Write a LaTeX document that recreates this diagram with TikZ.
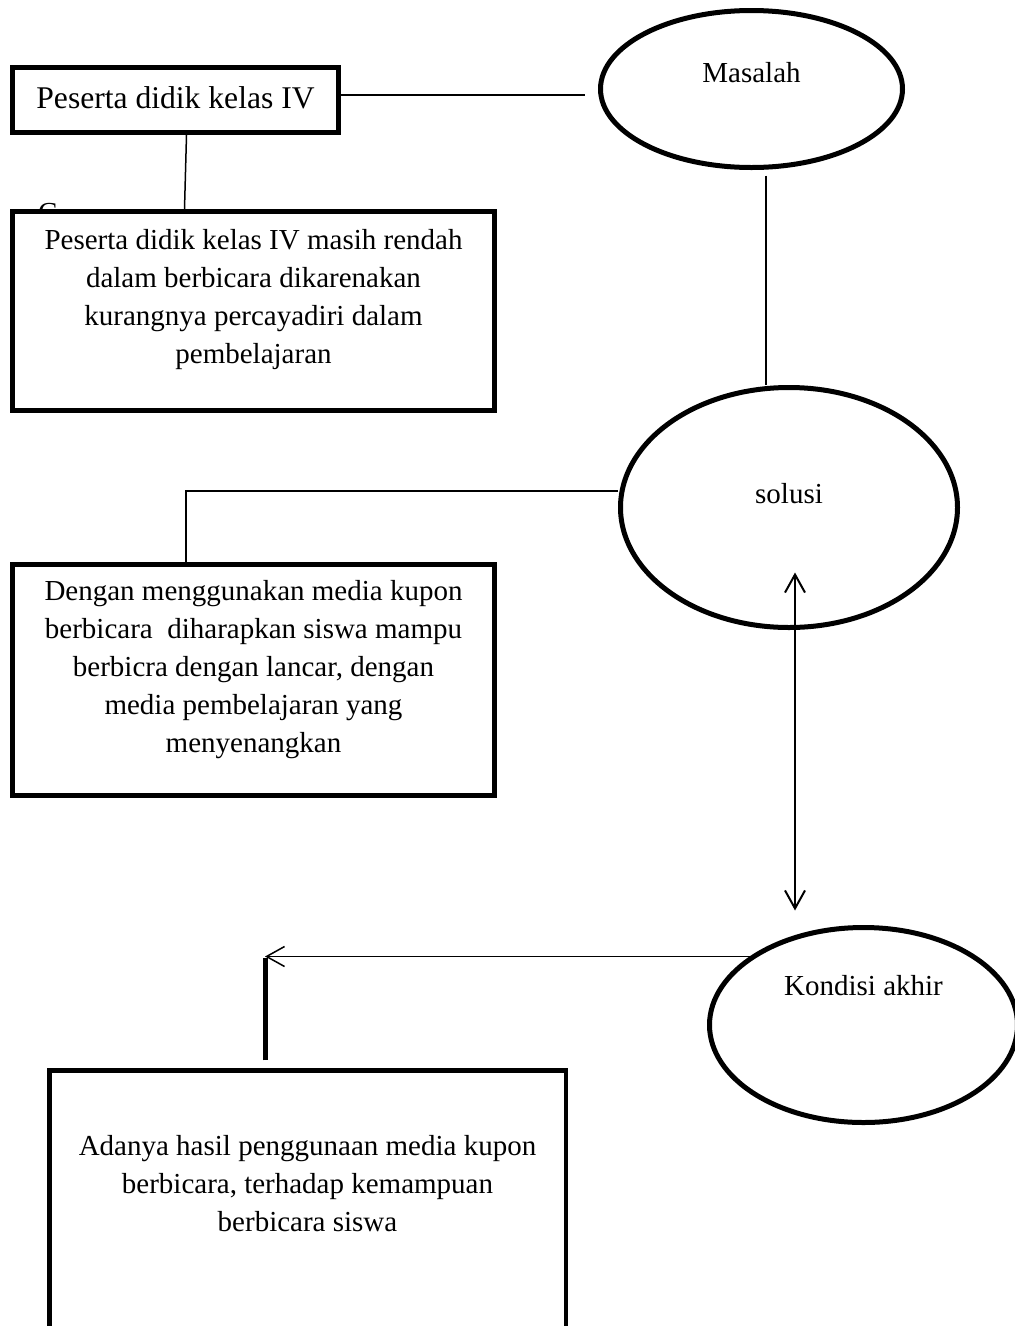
\documentclass[tikz,border=0pt]{standalone}
\usepackage{fontspec}
\setmainfont{Liberation Serif}
\usetikzlibrary{shapes.geometric,arrows.meta}
\tikzset{
  boxnode/.style={draw, rectangle, line width=5pt, fill=white, inner sep=0pt},
  ellnode/.style={draw, ellipse, line width=5pt, fill=white, inner sep=0pt},
  labeltext/.style={font=\fontsize{29}{38}\selectfont, align=center, inner sep=0pt},
  connline/.style={line width=1.5pt},
  barb/.tip={Straight Barb[length=18pt,width=20pt]},
}
\begin{document}
\begin{tikzpicture}[x=1pt,y=-1pt]
\useasboundingbox (0,0) rectangle (1015,1326);

% stray letter partly hidden behind box 2
\node[labeltext, anchor=base west] (stray) at (38,222) {C};

% boxes
\node[boxnode, minimum width=326pt, minimum height=65pt] (box1) at (175.5,100) {};
\node[labeltext, font=\fontsize{31.6}{38}\selectfont] (box1t) at ([yshift=2.5pt]box1.center) {Peserta didik kelas IV};

\node[boxnode, minimum width=482pt, minimum height=199pt] (box2) at (253.5,311) {};
\node[labeltext] (box2t) at ([yshift=11.5pt]box2.center)
  {Peserta didik kelas IV masih rendah\\dalam berbicara dikarenakan\\kurangnya percayadiri dalam\\pembelajaran};

\node[boxnode, minimum width=482pt, minimum height=231pt] (box3) at (253.5,680) {};
\node[labeltext] (box3t) at ([yshift=10.5pt]box3.center)
  {Dengan menggunakan media kupon\\berbicara\ \ diharapkan siswa mampu\\berbicra dengan lancar, dengan\\media pembelajaran yang\\menyenangkan};

\node[boxnode, line width=4.5pt, minimum width=516.5pt, minimum height=272pt] (box4) at (307.5,1206.5) {};
\node[labeltext] (box4t) at ([yshift=23pt]box4.center)
  {Adanya hasil penggunaan media kupon\\berbicara, terhadap kemampuan\\berbicara siswa};

% ellipses
\node[ellnode, minimum width=302pt, minimum height=157pt] (masalah) at (751.5,89) {};
\node[labeltext] (masalaht) at ([yshift=16pt]masalah.center) {Masalah};

\node[ellnode, minimum width=337pt, minimum height=240pt] (solusi) at (789,507.5) {};
\node[labeltext] (solusit) at ([yshift=13.5pt]solusi.center) {solusi};

\node[ellnode, minimum width=308pt, minimum height=195pt] (kondisi) at (863.5,1025) {};
\node[labeltext] (kondisit) at ([yshift=39pt]kondisi.center) {Kondisi akhir};

% connectors
\draw[connline, shorten >=13.5pt] ([yshift=5pt]box1.east) -- ([yshift=5pt]box1.east -| masalah.west);
\draw[connline] ([xshift=11pt]box1.south) -- ([xshift=-69pt]box2.north);
\draw[connline, shorten <=5.5pt] ([xshift=14.5pt]masalah.south) -- ([xshift=-23pt]solusi.north);
\draw[connline] ([yshift=16.5pt]solusi.west) -| ([xshift=-67.5pt]box3.north);
\draw[line width=2pt, {barb}-{barb}] ([xshift=6pt,yshift=57.5pt]solusi.south) -- ([xshift=-68.5pt,yshift=14.5pt]kondisi.north);

\coordinate (elbow) at (265,958);
\draw[connline, -{barb}] (kondisi.149) -- (kondisi.149 -| elbow);
\draw[line width=5pt, shorten <=8pt] ([xshift=-42.5pt]box4.north) -- (elbow);
\end{tikzpicture}
\end{document}
